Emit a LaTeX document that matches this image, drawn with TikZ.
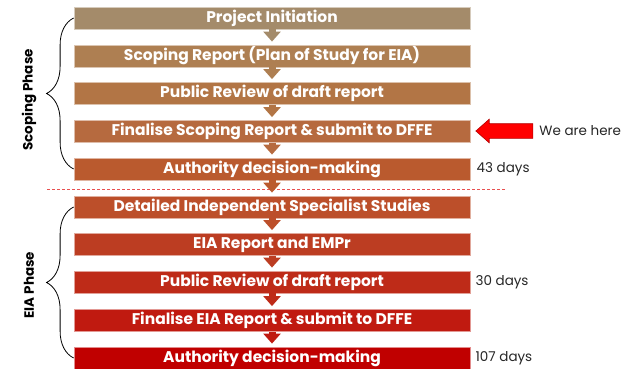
\documentclass[tikz,border=0pt]{standalone}
\usepackage{fontspec}
\setmainfont{Poppins}
\usetikzlibrary{arrows.meta}
\usetikzlibrary{positioning}
\usetikzlibrary{shapes.arrows}
\usetikzlibrary{decorations.pathreplacing}

\definecolor{colA}{RGB}{164,139,106}
\definecolor{colB}{RGB}{174,127,82}
\definecolor{colC}{RGB}{178,117,69}
\definecolor{colD}{RGB}{182,106,63}
\definecolor{colE}{RGB}{186,90,46}
\definecolor{colF}{RGB}{188,79,42}
\definecolor{colG}{RGB}{188,61,34}
\definecolor{colH}{RGB}{190,43,24}
\definecolor{colI}{RGB}{192,26,16}
\definecolor{colJ}{RGB}{192,0,0}
\definecolor{splitcol}{RGB}{232,80,80}

\tikzset{
	stepbox/.style={draw=#1!45!white, fill=#1, line width=0.8pt, minimum width=396pt, minimum height=22pt, inner sep=0pt, text=white, font=\fontsize{15.5}{17}\selectfont\bfseries},
	flow/.style={draw=#1, line width=7pt, -{Triangle[width=17pt, length=10pt]}, shorten >=3pt},
	phase/.style={rotate=90, font=\fontsize{13.5}{15}\selectfont\bfseries},
	days/.style={inner sep=0pt, anchor=west, font=\fontsize{13.5}{15}\selectfont, text=black!85},
	curly/.style={decorate, decoration={brace, amplitude=27pt}, line width=0.8pt}
}

\begin{document}
\begin{tikzpicture}[x=1pt, y=-1pt]
	\useasboundingbox (0,0) rectangle (635,369);

	% --- scoping ---
	\node[stepbox=colA] (proj)   at (272,18)    {Project Initiation};
	\node[stepbox=colB] (scope)  at (272,56)    {Scoping Report (Plan of Study for EIA)};
	\node[stepbox=colC] (review) at (272,93.5)  {Public Review of draft report};
	\node[stepbox=colD] (final)  at (272,131.5) {Finalise Scoping Report \& submit to DFFE};
	\node[stepbox=colE] (auth)   at (272,169)   {Authority decision-making};

	% --- eia ---
	\node[stepbox=colF] (spec)    at (272,207)   {Detailed Independent Specialist Studies};
	\node[stepbox=colG] (eiarep)  at (272,244.5) {EIA Report and EMPr};
	\node[stepbox=colH] (review2) at (272,282)   {Public Review of draft report};
	\node[stepbox=colI] (final2)  at (272,320.5) {Finalise EIA Report \& submit to DFFE};
	\node[stepbox=colJ] (auth2)   at (272,358)   {Authority decision-making};

	\draw[flow=colA] (proj) -- (scope);
	\draw[flow=colB] (scope) -- (review);
	\draw[flow=colC] (review) -- (final);
	\draw[flow=colD] (final) -- (auth);
	\draw[flow=colF] (spec) -- (eiarep);
	\draw[flow=colG] (eiarep) -- (review2);
	\draw[flow=colH] (review2) -- (final2);
	\draw[flow=colI] (final2) -- (auth2);

	% phase split
	\coordinate (splitl) at (47,189);
	\coordinate (splitr) at (505,189);
	\draw[splitcol, dash pattern=on 3pt off 2pt, line width=1pt] (splitl) -- (splitr);
	\draw[flow=colE] (auth) -- (spec);

	% braces
	\draw[curly] (auth.west) -- (proj.west);
	\draw[curly] (auth2.west) -- (spec.west);
	\node[phase] (scopelbl) at (29,100) {Scoping Phase};
	\node[phase] (eialbl) at (29,285) {EIA Phase};

	% we are here
	\node[single arrow, shape border rotate=180, fill=red, draw=red!70!black, line width=0.6pt, inner sep=7pt, minimum width=23pt, minimum height=57pt, single arrow head extend=4.5pt, single arrow tip angle=83] (here) at (508.5,131) {};
	\node[days, right=6pt of here] (herelbl) {We are here};

	\node[days, right=6pt of auth] (d43) {43 days};
	\node[days, right=5pt of review2] (d30) {30 days};
	\node[days, right=5pt of auth2] (d107) {107 days};

\end{tikzpicture}
\end{document}
